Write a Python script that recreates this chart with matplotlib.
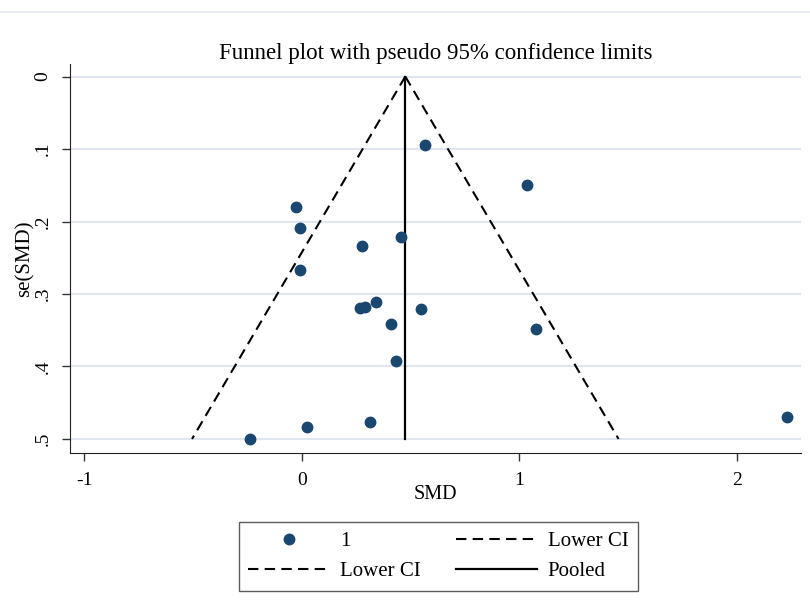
import matplotlib
matplotlib.use('Agg')
import matplotlib.pyplot as plt
from matplotlib.lines import Line2D
import numpy as np

plt.rcParams['font.family'] = ['Liberation Serif', 'DejaVu Serif']

# study effects
smd = [0.566, 1.033, -0.028, -0.006, 0.454, 0.276, -0.006, 0.267, 0.293,
       0.342, 0.546, 0.412, 1.076, 0.431, 0.313, 0.026, -0.236, 2.232]
se = [0.094, 0.150, 0.180, 0.209, 0.221, 0.234, 0.267, 0.319, 0.318,
      0.311, 0.321, 0.341, 0.348, 0.393, 0.477, 0.484, 0.500, 0.470]
pooled = 0.476

x_ticks = [-1, 0, 1, 2]
x_labels = ['-1', '0', '1', '2']
y_ticks = [0, 0.1, 0.2, 0.3, 0.4, 0.5]
y_labels = ['0', '.1', '.2', '.3', '.4', '.5']

navy = '#1a476f'
grid = '#e0e6ef'

fig = plt.figure(figsize=(8.1, 6.08), dpi=100)
fig.add_artist(Line2D([0, 1], [1 - 11.7 / 608] * 2, color='#e3e7ee', lw=1.2,
                      transform=fig.transFigure))
ax = fig.add_axes([0.087, 0.255, 0.902, 0.640])

se_max = max(se)
ax.plot([pooled, pooled - 1.96 * se_max], [0, se_max], color='black', lw=1.5,
        dashes=(5, 3), label='Lower CI', zorder=3)
ax.plot([pooled, pooled + 1.96 * se_max], [0, se_max], color='black', lw=1.5,
        dashes=(5, 3), label='Lower CI', zorder=3)
ax.plot([pooled, pooled], [0, se_max], color='black', lw=1.6, label='Pooled', zorder=3)
ax.plot(smd, se, 'o', color=navy, markersize=7.5, label='1', zorder=4)

ax.set_xlim(-1.0625, 2.2946)
ax.set_ylim(0.5193, -0.0175)
ax.set_xticks(x_ticks)
ax.set_xticklabels(x_labels)
ax.set_yticks(y_ticks)
ax.set_yticklabels(y_labels)
for lab in ax.get_yticklabels():
    lab.set_rotation(90)
    lab.set_va('center')

ax.yaxis.grid(True, color=grid, lw=1.5)
ax.set_axisbelow(True)
ax.spines['top'].set_visible(False)
ax.spines['right'].set_visible(False)
ax.spines['left'].set_color('#222222')
ax.spines['bottom'].set_color('#222222')
ax.tick_params(direction='out', length=5.5, width=1, color='#333333',
               labelsize=14, pad=8)

ax.set_title('Funnel plot with pseudo 95% confidence limits', fontsize=16.5, pad=1)
ax.set_xlabel('SMD', fontsize=14.5, labelpad=-3)
ax.set_ylabel('se(SMD)', fontsize=15, labelpad=0)

h, l = ax.get_legend_handles_labels()
order = [3, 0, 1, 2]
leg = fig.legend([h[i] for i in order], [l[i] for i in order], ncol=2,
                 loc='center', bbox_to_anchor=(0.541, 0.0847), fontsize=15,
                 frameon=True, fancybox=False, edgecolor='#333333',
                 handlelength=3.9, handletextpad=0.5, columnspacing=1.7,
                 borderpad=0.45, labelspacing=0.5, numpoints=1)
leg.get_frame().set_linewidth(1.0)

fig.savefig('out.png', dpi=100)
